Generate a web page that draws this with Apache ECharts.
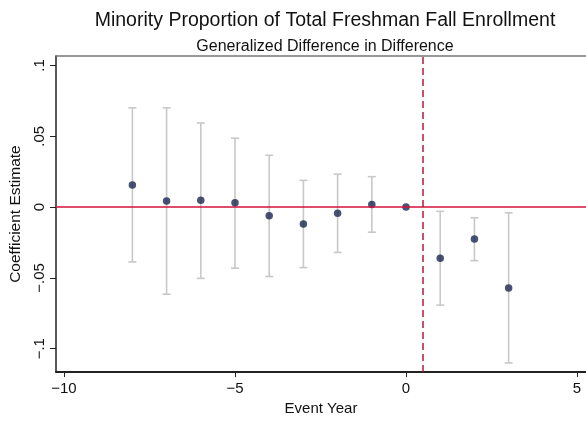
<!DOCTYPE html>
<html>
<head>
<meta charset="utf-8">
<script src="https://cdn.jsdelivr.net/npm/echarts@6/dist/echarts.min.js"></script>
<style>
  html, body { margin: 0; padding: 0; background: #fff; }
  #chart { width: 586px; height: 421px; }
</style>
</head>
<body>
<div id="chart"></div>
<script>
// event years and estimates
const eventYears = [-8, -7, -6, -5, -4, -3, -2, -1, 0, 1, 2, 3];
const coefs = [0.0156, 0.0044, 0.0049, 0.0030, -0.0061, -0.0119, -0.0044, 0.0019, 0.0, -0.0361, -0.0226, -0.0571];
const ciUpper = [0.0701, 0.0701, 0.0594, 0.0487, 0.0366, 0.0189, 0.0233, 0.0215, null, -0.0030, -0.0075, -0.0040];
const ciLower = [-0.0387, -0.0615, -0.0503, -0.0431, -0.0490, -0.0427, -0.0320, -0.0177, null, -0.0692, -0.0378, -0.1100];
const xTicks = [-10, -5, 0, 5];
const yTicks = [-0.1, -0.05, 0, 0.05, 0.1];
const treatLine = 0.5;

const fontFam = '"Liberation Sans", Arial, sans-serif';

function fmtNum(v) {
  // stata-ish labels: .05, −.1, −10
  let s = String(+v.toFixed(4));
  s = s.replace(/^0\./, '.').replace(/^-0\./, '-.');
  return s.replace('-', '\u2212');
}

const chart = echarts.init(document.getElementById('chart'));

const ciData = eventYears
  .map((x, i) => [x, ciLower[i], ciUpper[i]])
  .filter(d => d[1] !== null);

const option = {
  animation: false,
  backgroundColor: '#fff',
  title: [
    {
      text: 'Minority Proportion of Total Freshman Fall Enrollment',
      left: 320, top: 6, textAlign: 'center',
      textStyle: { fontFamily: fontFam, fontSize: 19.5, fontWeight: 'normal', color: '#111' }
    },
    {
      text: 'Generalized Difference in Difference',
      left: 320, top: 34, textAlign: 'center',
      textStyle: { fontFamily: fontFam, fontSize: 16, fontWeight: 'normal', color: '#111' }
    }
  ],
  grid: { left: 53, right: 0, top: 56, bottom: 47 },
  xAxis: [
    {
      type: 'value',
      min: -10.233, max: 5.262,
      name: 'Event Year',
      nameLocation: 'middle',
      nameGap: 25,
      nameTextStyle: { fontFamily: fontFam, fontSize: 15, color: '#111' },
      axisLine: { show: true, onZero: false, lineStyle: { color: '#222', width: 2 } },
      axisTick: { show: true, length: 5, customValues: xTicks, lineStyle: { color: '#222', width: 1 } },
      axisLabel: {
        customValues: xTicks, margin: 9,
        fontFamily: fontFam, fontSize: 15, color: '#111',
        formatter: v => fmtNum(v)
      },
      splitLine: { show: false }
    },
    {
      type: 'value', position: 'top',
      min: -10.233, max: 5.262,
      axisLine: { show: true, onZero: false, lineStyle: { color: '#777', width: 1.5 } },
      axisTick: { show: false },
      axisLabel: { show: false },
      splitLine: { show: false }
    }
  ],
  yAxis: {
    type: 'value',
    min: -0.1165, max: 0.1067,
    name: 'Coefficient Estimate',
    nameLocation: 'middle',
    nameRotate: 90,
    nameGap: 32,
    nameTextStyle: { fontFamily: fontFam, fontSize: 15.5, color: '#111' },
    axisLine: { show: true, onZero: false, lineStyle: { color: '#222', width: 1.5 } },
    axisTick: { show: true, length: 6, customValues: yTicks, lineStyle: { color: '#222', width: 1 } },
    axisLabel: {
      customValues: yTicks, rotate: 90, margin: 9,
      fontFamily: fontFam, fontSize: 15, color: '#111',
      formatter: v => fmtNum(v)
    },
    splitLine: { show: false }
  },
  series: [
    {
      type: 'custom',
      name: 'ci',
      data: ciData,
      encode: { x: 0, y: [1, 2] },
      renderItem: function (params, api) {
        const x = api.value(0);
        const lo = api.coord([x, api.value(1)]);
        const hi = api.coord([x, api.value(2)]);
        const cap = 4;
        const style = { stroke: '#c8c8c8', lineWidth: 1.6, fill: null };
        return {
          type: 'group',
          children: [
            { type: 'line', shape: { x1: lo[0], y1: lo[1], x2: hi[0], y2: hi[1] }, style: style },
            { type: 'line', shape: { x1: lo[0] - cap, y1: lo[1], x2: lo[0] + cap, y2: lo[1] }, style: style },
            { type: 'line', shape: { x1: hi[0] - cap, y1: hi[1], x2: hi[0] + cap, y2: hi[1] }, style: style }
          ]
        };
      },
      z: 2
    },
    {
      type: 'scatter',
      name: 'coef',
      data: eventYears.map((x, i) => [x, coefs[i]]),
      symbol: 'circle',
      symbolSize: 7.5,
      itemStyle: { color: '#1a2850' },
      z: 4,
      markLine: {
        silent: true,
        symbol: 'none',
        label: { show: false },
        data: [
          { yAxis: 0, lineStyle: { color: '#d4123c', width: 1.5, type: 'solid' } },
          { xAxis: treatLine, lineStyle: { color: '#b3183d', width: 1.5, type: [7, 4] } }
        ]
      }
    }
  ]
};

chart.setOption(option);
</script>
</body>
</html>
